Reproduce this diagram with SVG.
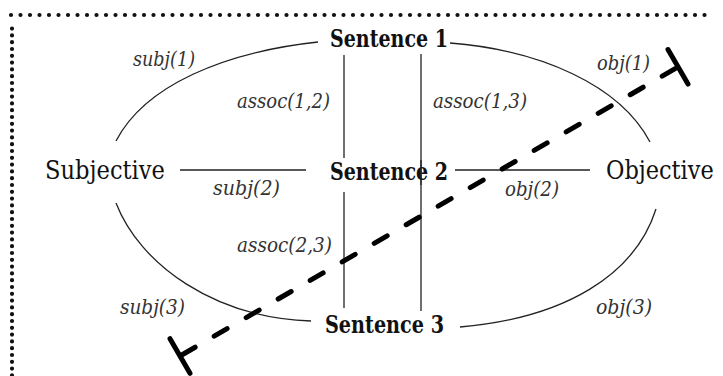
<svg xmlns="http://www.w3.org/2000/svg" width="723" height="376" viewBox="0 0 723 376">
  <style>
    text { font-family: 'DejaVu Serif', 'Liberation Serif', serif; }
    .node { fill: #111; }
    .bold { font-weight: bold; font-size: 24px; }
    .reg { font-size: 26px; }
    .lbl { font-style: italic; font-size: 20px; fill: #333; }
    .edge { fill: none; stroke: #222; stroke-width: 1.3; }
    .dots { fill: none; stroke: #111; stroke-width: 4.2; stroke-linecap: round; }
    .cut { fill: none; stroke: #000; stroke-width: 5; stroke-linecap: round; }
  </style>
  <rect x="0" y="0" width="723" height="376" fill="#fff"/>
  <g id="frame">
    <line class="dots" x1="11" y1="15" x2="714" y2="15" stroke-dasharray="0 9.5"/>
    <line class="dots" x1="12" y1="28.6" x2="12" y2="376" stroke-dasharray="0 6.8"/>
  </g>
  <g id="connectors">
    <path class="edge" d="M116 141 C145 85 225 52 318 42"/>
    <path class="edge" d="M450 43 C540 50 620 85 650 142"/>
    <path class="edge" d="M116 203 C140 265 215 318 311 321"/>
    <path class="edge" d="M460 327 C565 318 635 275 656 209"/>
    <line class="edge" x1="180" y1="170" x2="306" y2="170"/>
    <line class="edge" x1="455" y1="170" x2="590" y2="170"/>
    <line class="edge" x1="344" y1="55" x2="344" y2="158"/>
    <line class="edge" x1="344" y1="192" x2="344" y2="308"/>
    <line class="edge" x1="421" y1="54" x2="421" y2="311"/>
    <text class="lbl" x="133" y="66" textLength="62" lengthAdjust="spacingAndGlyphs">subj(1)</text>
    <text class="lbl" x="597" y="70" textLength="53" lengthAdjust="spacingAndGlyphs">obj(1)</text>
    <text class="lbl" x="237" y="108" textLength="93" lengthAdjust="spacingAndGlyphs">assoc(1,2)</text>
    <text class="lbl" x="433" y="108" textLength="94" lengthAdjust="spacingAndGlyphs">assoc(1,3)</text>
    <text class="lbl" x="213" y="195" textLength="67" lengthAdjust="spacingAndGlyphs">subj(2)</text>
    <text class="lbl" x="505" y="196" textLength="54" lengthAdjust="spacingAndGlyphs">obj(2)</text>
    <text class="lbl" x="237" y="252" textLength="95" lengthAdjust="spacingAndGlyphs">assoc(2,3)</text>
    <text class="lbl" x="120" y="314" textLength="65" lengthAdjust="spacingAndGlyphs">subj(3)</text>
    <text class="lbl" x="596" y="314" textLength="56" lengthAdjust="spacingAndGlyphs">obj(3)</text>
  </g>
  <g id="sentence1"><text class="node bold" x="330" y="47" textLength="118" lengthAdjust="spacingAndGlyphs">Sentence 1</text></g>
  <g id="sentence2"><text class="node bold" x="330" y="180" textLength="118" lengthAdjust="spacingAndGlyphs">Sentence 2</text></g>
  <g id="sentence3"><text class="node bold" x="325" y="333" textLength="119" lengthAdjust="spacingAndGlyphs">Sentence 3</text></g>
  <g id="subjective"><text class="node reg" x="45" y="179" textLength="120" lengthAdjust="spacingAndGlyphs">Subjective</text></g>
  <g id="objective"><text class="node reg" transform="translate(606 179) scale(0.864 1)" x="0" y="0">Objective</text></g>
  <line class="edge" x1="421" y1="160" x2="421" y2="185"/>
  <g id="cut-line">
    <line class="cut" x1="180" y1="356" x2="678" y2="67" stroke-dasharray="15 22" stroke-dashoffset="-2.5"/>
    <line class="cut" x1="170" y1="338.7" x2="190" y2="373.3" stroke-linecap="butt"/>
    <line class="cut" x1="668" y1="49.5" x2="688" y2="84.1" stroke-linecap="butt"/>
  </g>
</svg>
